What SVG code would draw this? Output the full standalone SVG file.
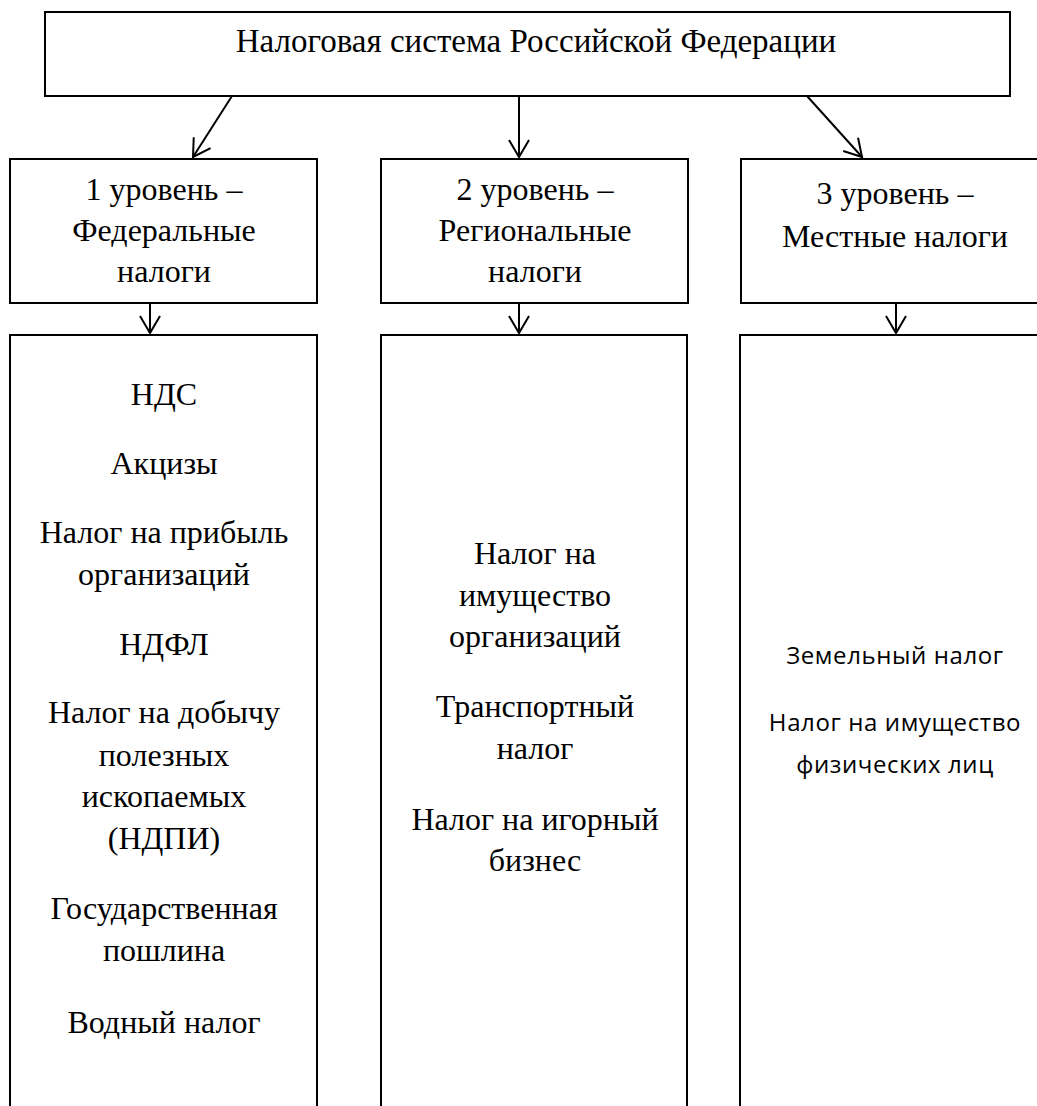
<svg xmlns="http://www.w3.org/2000/svg" width="1037" height="1106" viewBox="0 0 1037 1106">
<style>
.box{fill:#fff;stroke:#000;stroke-width:2}
.t{font-family:"Liberation Serif","Times New Roman",serif;font-size:32px;fill:#000;text-anchor:middle}
.s{font-family:"Open Sans","Noto Sans",sans-serif;font-size:24px;letter-spacing:0.6px;fill:#000;text-anchor:middle}
.c{fill:none;stroke:#000;stroke-width:2}
</style>
<defs>
<marker id="arr" markerUnits="userSpaceOnUse" markerWidth="40" markerHeight="40" viewBox="-20 -20 40 40" refX="0" refY="0" orient="auto" overflow="visible">
<path d="M-17,-10 L0,0 L-17,10" fill="none" stroke="#000" stroke-width="2"/>
</marker>
</defs>
<rect width="1037" height="1106" fill="#fff"/>
<g id="root">
<rect class="box" x="45" y="12" width="965" height="84"/>
<text class="t" x="536" y="52" style="font-size:33px">Налоговая система Российской Федерации</text>
</g>
<g id="level1">
<rect class="box" x="10" y="159" width="307" height="144"/>
<text class="t" x="164" y="200">1 уровень –</text>
<text class="t" x="164" y="241">Федеральные</text>
<text class="t" x="164" y="282">налоги</text>
</g>
<g id="level2">
<rect class="box" x="381" y="159" width="307" height="144"/>
<text class="t" x="535" y="200">2 уровень –</text>
<text class="t" x="535" y="241">Региональные</text>
<text class="t" x="535" y="282">налоги</text>
</g>
<g id="level3">
<rect class="box" x="741" y="159" width="330" height="144"/>
<text class="t" x="895" y="204">3 уровень –</text>
<text class="t" x="895" y="247">Местные налоги</text>
</g>
<g id="federal-taxes">
<rect class="box" x="10" y="335" width="307" height="800"/>
<text class="t" x="164" y="405">НДС</text>
<text class="t" x="164" y="474">Акцизы</text>
<text class="t" x="164" y="543">Налог на прибыль</text>
<text class="t" x="164" y="585">организаций</text>
<text class="t" x="164" y="655">НДФЛ</text>
<text class="t" x="164" y="723">Налог на добычу</text>
<text class="t" x="164" y="766">полезных</text>
<text class="t" x="164" y="807">ископаемых</text>
<text class="t" x="164" y="849">(НДПИ)</text>
<text class="t" x="164" y="919">Государственная</text>
<text class="t" x="164" y="961">пошлина</text>
<text class="t" x="164" y="1033">Водный налог</text>
</g>
<g id="regional-taxes">
<rect class="box" x="381" y="335" width="306" height="800"/>
<text class="t" x="535" y="564">Налог на</text>
<text class="t" x="535" y="606">имущество</text>
<text class="t" x="535" y="647">организаций</text>
<text class="t" x="535" y="717">Транспортный</text>
<text class="t" x="535" y="759">налог</text>
<text class="t" x="535" y="830">Налог на игорный</text>
<text class="t" x="535" y="871">бизнес</text>
</g>
<g id="local-taxes">
<rect class="box" x="740" y="335" width="330" height="800"/>
<text class="s" x="895" y="664">Земельный налог</text>
<text class="s" x="895" y="731">Налог на имущество</text>
<text class="s" x="895" y="773">физических лиц</text>
</g>
<g id="connectors">
<line class="c" x1="232" y1="96" x2="193" y2="157" marker-end="url(#arr)"/>
<line class="c" x1="519" y1="96" x2="519" y2="157" marker-end="url(#arr)"/>
<line class="c" x1="807" y1="96" x2="862" y2="157" marker-end="url(#arr)"/>
<line class="c" x1="150" y1="303" x2="150" y2="333" marker-end="url(#arr)"/>
<line class="c" x1="519" y1="303" x2="519" y2="333" marker-end="url(#arr)"/>
<line class="c" x1="896" y1="303" x2="896" y2="333" marker-end="url(#arr)"/>
</g>
</svg>
